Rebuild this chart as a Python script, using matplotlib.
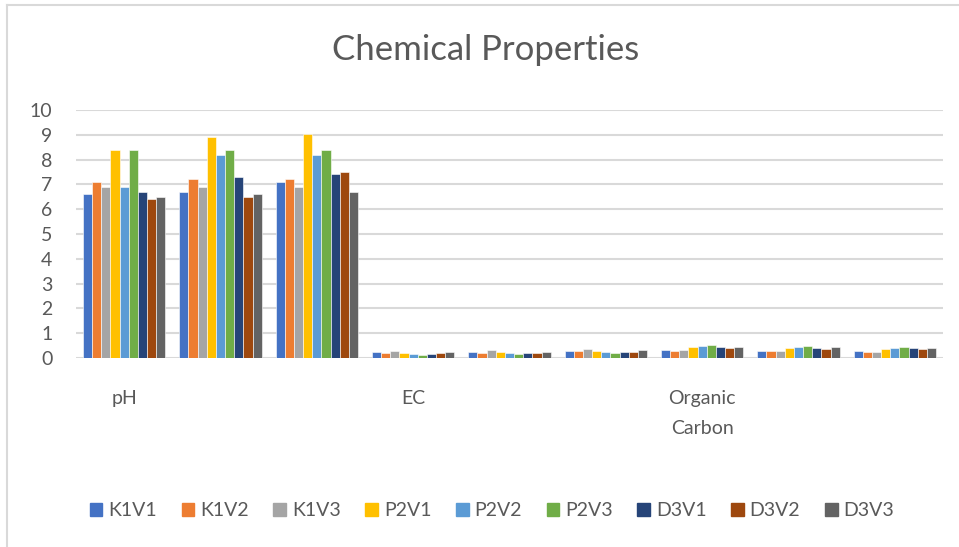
import matplotlib
matplotlib.use("Agg")
import matplotlib.pyplot as plt
import numpy as np
from matplotlib.patches import Rectangle
from matplotlib.lines import Line2D

plt.rcParams['font.family'] = ['Lato', 'DejaVu Sans']

groups = ["pH", "", "", "EC", "", "", "Organic\nCarbon", "", ""]
series_names = ["K1V1", "K1V2", "K1V3", "P2V1", "P2V2", "P2V3", "D3V1", "D3V2", "D3V3"]

K1V1 = [6.6, 6.7, 7.1, 0.25, 0.25, 0.30, 0.34, 0.30, 0.28]
K1V2 = [7.1, 7.2, 7.2, 0.20, 0.20, 0.27, 0.30, 0.28, 0.25]
K1V3 = [6.9, 6.9, 6.9, 0.30, 0.31, 0.35, 0.32, 0.28, 0.24]
P2V1 = [8.4, 8.9, 9.05, 0.20, 0.25, 0.28, 0.44, 0.40, 0.36]
P2V2 = [6.9, 8.2, 8.2, 0.17, 0.21, 0.24, 0.47, 0.43, 0.40]
P2V3 = [8.4, 8.4, 8.4, 0.13, 0.17, 0.19, 0.52, 0.50, 0.46]
D3V1 = [6.7, 7.3, 7.4, 0.17, 0.20, 0.23, 0.44, 0.42, 0.39]
D3V2 = [6.4, 6.5, 7.5, 0.19, 0.21, 0.24, 0.42, 0.38, 0.35]
D3V3 = [6.5, 6.6, 6.7, 0.23, 0.25, 0.31, 0.46, 0.43, 0.40]
values = [K1V1, K1V2, K1V3, P2V1, P2V2, P2V3, D3V1, D3V2, D3V3]

colors = ["#4472C4", "#ED7D31", "#A5A5A5", "#FFC000", "#5B9BD5",
          "#70AD47", "#264478", "#9E480E", "#636363"]

W, H = 959, 547
fig = plt.figure(figsize=(W / 100, H / 100), dpi=100)
ax = fig.add_axes([76 / W, 1 - 358 / H, (943 - 76) / W, (358 - 110) / H])

x = np.arange(len(groups))
bw = 0.095
for i, (name, vals, c) in enumerate(zip(series_names, values, colors)):
    ax.bar(x + (i - 4) * bw, vals, width=bw, color=c, label=name, zorder=3,
           edgecolor='white', linewidth=0.4)

ax.set_xlim(-0.5, len(groups) - 0.5)
ax.set_ylim(0, 10)
ax.set_yticks(range(0, 11))
ax.yaxis.grid(True, color="#d9d9d9", linewidth=1.5, zorder=0)
ax.set_axisbelow(True)
for s in ["top", "right", "left", "bottom"]:
    ax.spines[s].set_visible(False)
ax.tick_params(axis='y', length=0, pad=17, labelsize=14, labelcolor="#595959")
ax.set_xticks([0, 3, 6])
ax.set_xticklabels(["pH", "EC", "Organic\nCarbon"], linespacing=1.95, va='top')
ax.tick_params(axis='x', length=0, pad=23, labelsize=14, labelcolor="#595959")

fig.text(486 / W, 1 - 50 / H, "Chemical Properties", ha='center', va='center',
         fontsize=25, color="#595959")

handles = [Rectangle((0, 0), 1, 1, color=c) for c in colors]
leg = fig.legend(handles, series_names, loc='center', ncol=9,
                 bbox_to_anchor=(492 / W, 1 - 511 / H), frameon=False,
                 fontsize=14, handlelength=0.65, handleheight=0.65,
                 handletextpad=0.3, columnspacing=1.27)
for t in leg.get_texts():
    t.set_color("#595959")

# chart area border (left and top visible)
fig.add_artist(Line2D([7 / W, 7 / W], [0, 1 - 5 / H], color="#d9d9d9", linewidth=1.5, transform=fig.transFigure))
fig.add_artist(Line2D([7 / W, 1], [1 - 5 / H, 1 - 5 / H], color="#d9d9d9", linewidth=1.5, transform=fig.transFigure))

fig.savefig("out.png", dpi=100)
